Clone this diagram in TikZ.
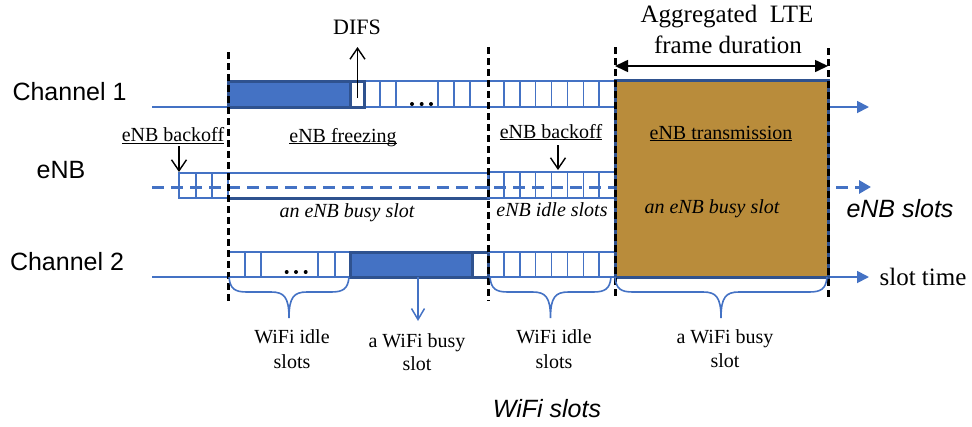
\documentclass[tikz,border=0pt]{standalone}
\usepackage{fontspec}
\setmainfont{Liberation Serif}
\newfontfamily\arialfam{Liberation Sans}
\usetikzlibrary{arrows.meta}
\definecolor{officeblue}{RGB}{68,114,196}
\definecolor{edgeblue}{RGB}{47,82,143}
\definecolor{ltebrown}{RGB}{185,140,59}
\newcommand\ulabel[1]{\underline{\smash{#1}}}

\begin{document}
\begin{tikzpicture}[x=1pt,y=-1pt,
  txt/.style={inner sep=0pt, anchor=base},
  serif/.style={txt, font=\fontsize{20}{24}\selectfont},
  serifit/.style={txt, font=\fontsize{20}{24}\selectfont\itshape},
  big/.style={txt, font=\fontsize{25}{28}\selectfont},
  sans/.style={txt, font=\arialfam\fontsize{25}{28}\selectfont},
  sansit/.style={txt, font=\arialfam\itshape\fontsize{25}{28}\selectfont},
  axis/.style={draw=officeblue, line width=1.8pt, -{Triangle[length=12pt,width=12pt]}},
  enbaxis/.style={draw=officeblue, line width=3pt, dash pattern=on 12pt off 7pt, -{Triangle[length=12pt,width=13pt]}},
  slotline/.style={draw=officeblue, line width=1.5pt},
  busyedge/.style={draw=edgeblue, line width=3pt},
  divider/.style={draw=black, line width=3pt, dash pattern=on 7pt off 4pt},
  pointer/.style={draw=black, line width=1.4pt, -{Straight Barb[length=11pt,width=15pt]}},
  bluepointer/.style={draw=officeblue, line width=1.5pt, -{Straight Barb[length=11pt,width=13pt]}},
  spanarrow/.style={draw=black, line width=1.6pt, {Triangle[length=13pt,width=12pt]}-{Triangle[length=13pt,width=12pt]}},
  wbrace/.style={draw=officeblue, line width=1.6pt},
]
\useasboundingbox (0,0) rectangle (972,426);

% ---------- row labels ----------
\node[sans] (ch1) at (69.5,100) {Channel 1};
\node[sans] (enb) at (61,178) {eNB};
\node[sans] (ch2) at (67,270) {Channel 2};

% ---------- time axes ----------
\coordinate (c1start) at (152,107);
\coordinate (c1end) at (869,107);
\coordinate (c2start) at (152,277);
\coordinate (c2end) at (869,277);
\coordinate (estart) at (152,187);
\coordinate (eend) at (871,187);
\draw[axis] (c1start) -- (c1end);
\draw[axis] (c2start) -- (c2end);

% ---------- Channel 1 ----------
\fill[officeblue] (228,81) rectangle (350,107);
\fill[white] (350,81) rectangle (364,107);
\draw[slotline] (364,81) -- (615,81);
\foreach \x in {380,396,438,454,470,503.9,519.8,535.6,551.5,567.4,583.3,599.1}
  \draw[slotline] (\x,81) -- (\x,107);
\draw[busyedge] (228,81) rectangle (364,107);
\draw[busyedge] (350,81) -- (350,107);
\foreach \x in {412,421.7,431} \fill (\x,104) circle (2pt);

% ---------- eNB ----------
\draw[slotline] (179,173) rectangle (228,198);
\foreach \x in {196,212} \draw[slotline] (\x,173) -- (\x,198);
\draw[slotline] (228,173) rectangle (488,198);
\draw[busyedge] (228,198) -- (488,198) -- (488,173);
\draw[slotline] (488,172) rectangle (616,198);
\foreach \x in {503.9,519.8,535.6,551.5,567.4,583.3,599.1}
  \draw[slotline] (\x,172) -- (\x,198);
\draw[enbaxis] (estart) -- (eend);

% ---------- Channel 2 ----------
\draw[slotline] (228,252) -- (350,252);
\foreach \x in {245,261,318,335}
  \draw[slotline] (\x,252) -- (\x,277);
\fill[officeblue] (350,252) rectangle (472,277);
\fill[white] (472,252) rectangle (488,277);
\draw[busyedge] (350,252) rectangle (488,277);
\draw[busyedge] (472,252) -- (472,277);
\draw[slotline] (488,252) -- (615,252);
\foreach \x in {503.9,519.8,535.6,551.5,567.4,583.3,599.1}
  \draw[slotline] (\x,252) -- (\x,277);
\foreach \x in {286.7,296,305.7} \fill (\x,272) circle (2pt);

% ---------- LTE transmission block ----------
\fill[ltebrown] (615,80) rectangle (828,277);
\draw[busyedge] (615,80) rectangle (828,277);

% ---------- slot boundaries ----------
\coordinate (d1t) at (228,52);  \coordinate (d1b) at (228,302);
\coordinate (d2t) at (488,47);  \coordinate (d2b) at (488,301);
\coordinate (d3t) at (615,47);  \coordinate (d3b) at (615,298);
\coordinate (d4t) at (828,48);  \coordinate (d4b) at (828,298);
\draw[divider] (d1t) -- (d1b);
\draw[divider] (d2t) -- (d2b);
\draw[divider] (d3t) -- (d3b);
\draw[divider] (d4t) -- (d4b);

% ---------- frame duration ----------
\node[big] (agg) at (727,22) {Aggregated\ \ LTE};
\node[big] (fdur) at (728,53) {frame duration};
\coordinate (spanl) at (615,66);
\coordinate (spanr) at (828,66);
\draw[spanarrow] (spanl) -- (spanr);

% ---------- DIFS ----------
\node[txt, font=\fontsize{22}{26}\selectfont] (difs) at (357,34) {DIFS};
\coordinate (difsfoot) at (357.5,98);
\coordinate (difstip) at (357.5,47);
\draw[pointer] (difsfoot) -- (difstip);

% ---------- eNB state labels ----------
\node[serif] (bo1) at (173,141.5) {\ulabel{eNB backoff}};
\node[serif] (frz) at (343,142) {\ulabel{eNB freezing}};
\node[serif] (bo2) at (551,138) {\ulabel{eNB backoff}};
\node[serif] (tx) at (721,139) {\ulabel{eNB transmission}};
\coordinate (bo1from) at (179,146);
\coordinate (bo1to) at (179,172);
\coordinate (bo2from) at (558,145);
\coordinate (bo2to) at (558,170);
\draw[pointer] (bo1from) -- (bo1to);
\draw[pointer] (bo2from) -- (bo2to);

\node[serifit] (busy1) at (347,217) {an eNB busy slot};
\node[serifit] (idle1) at (552,216) {eNB idle slots};
\node[serifit] (busy2) at (712,213) {an eNB busy slot};
\node[sansit] (enbslots) at (900,217) {eNB slots};

% ---------- WiFi slot annotations ----------
\foreach \a/\b in {229/349, 490/611, 615/827} {
  \pgfmathsetmacro\m{(\a+\b)/2}
  \draw[wbrace] (\a,277) .. controls (\a+1,289) and (\a+6,292) .. (\a+18,292)
    -- (\m-18,292) .. controls (\m-5,292) and (\m,297) .. (\m,318)
    .. controls (\m,297) and (\m+5,292) .. (\m+18,292)
    -- (\b-18,292) .. controls (\b-6,292) and (\b-1,289) .. (\b,277);
}
\coordinate (wbfrom) at (418,277);
\coordinate (wbto) at (418,321);
\draw[bluepointer] (wbfrom) -- (wbto);

\node[serif] (wi1a) at (292,343) {WiFi idle};
\node[serif] (wi1b) at (292,368) {slots};
\node[serif] (wb1a) at (417,347) {a WiFi busy};
\node[serif] (wb1b) at (417,370) {slot};
\node[serif] (wi2a) at (554,343) {WiFi idle};
\node[serif] (wi2b) at (554,368) {slots};
\node[serif] (wb2a) at (725,343) {a WiFi busy};
\node[serif] (wb2b) at (725,367) {slot};

\node[big] (stime) at (923,285) {slot time};
\node[sansit] (wslots) at (547,417) {WiFi slots};
\end{tikzpicture}
\end{document}
